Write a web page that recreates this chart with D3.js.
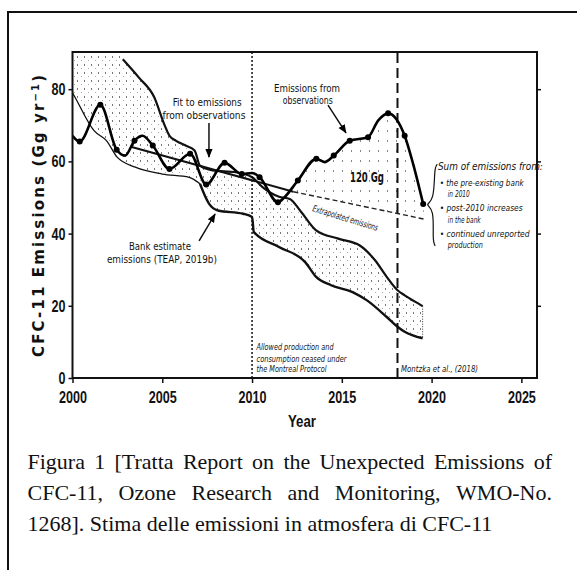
<!DOCTYPE html>
<html><head><meta charset="utf-8">
<script src="https://cdn.jsdelivr.net/npm/d3@7"></script>
<style>
html,body{margin:0;padding:0;background:#fff;}
svg{display:block;}
</style></head>
<body>
<svg id="c" width="577" height="570"></svg>
<script>
// ---------- data ----------
const obsYears  = [2000.0,2000.4,2001.55,2002.46,2002.93,2003.45,2003.9,2004.47,2005.4,2006.55,2007.45,2008.47,2009.43,2010.0,2010.42,2011.44,2011.81,2012.55,2013.58,2014.04,2014.55,2015.44,2016.46,2017.02,2017.58,2018.04,2018.5,2018.97,2019.53];
const obsValues = [67.1,65.5,75.7,63.2,61.6,65.7,67.1,64.4,57.9,62.1,53.6,59.6,56.5,56.8,55.6,48.7,50.1,54.7,60.7,59.8,61.6,65.7,66.7,71.3,73.3,71.7,67.1,59.3,48.2];
const markerYears  = [2000.4,2001.55,2002.46,2003.45,2004.47,2005.4,2006.55,2007.45,2008.47,2009.43,2010.42,2011.44,2012.55,2013.58,2014.55,2015.44,2016.46,2017.58,2018.5,2019.53];
const markerValues = [65.5,75.7,63.2,65.7,64.4,57.9,62.1,53.6,59.6,56.5,55.6,48.7,54.7,60.7,61.6,65.7,66.7,73.3,67.1,48.2];

const bankUpperYears  = [2000.0,2001.5,2002.5,2002.8,2003.7,2004.56,2005.1,2005.4,2005.77,2006.3,2006.8,2007.1,2007.8,2009.1,2010.0,2010.6,2011.5,2012.1,2012.75,2013.57,2014.8,2016.0,2016.85,2017.5,2018.1,2018.5,2019.4,2019.5];
const bankUpperValues = [93,92,91,88.3,83.2,77.7,70.4,67.1,65.7,64.4,63.0,58.8,57.5,57.0,55.6,52.8,50.2,49.6,45.9,40.9,38.6,36.7,32.6,28.0,24.3,22.9,20.2,19.9];
const bankLowerYears  = [2000.0,2000.2,2001.2,2001.9,2002.5,2003.5,2005.0,2006.5,2007.1,2007.6,2008.1,2009.5,2010.0,2010.1,2011.5,2012.96,2013.57,2014.4,2015.6,2016.4,2017.5,2018.1,2018.5,2019.5];
const bankLowerValues = [79,77.2,68.5,65.7,61.1,58.4,56.5,55.6,53.8,48.3,46.4,45.5,44.6,40.4,36.3,32.1,28.0,25.7,23.8,21.5,16.9,14.2,12.8,11.0];

const fitYears     = [2003.3, 2012.3];
const fitValues    = [64.0, 51.6];
const extrapYears  = [2012.3, 2019.6];
const extrapValues = [51.6, 44.0];

const xTicks = [2000, 2005, 2010, 2015, 2020, 2025];
const yTicks = [0, 20, 40, 60, 80];
const refLineYears = [2010, 2018.1];

const captionLines = [
  "Figura 1 [Tratta Report on the Unexpected Emissions of",
  "CFC-11, Ozone Research and Monitoring, WMO-No.",
  "1268]. Stima delle emissioni in atmosfera di CFC-11"
];

// ---------- layout ----------
const svg = d3.select("#c");
svg.append("rect").attr("width",577).attr("height",570).attr("fill","#fff");
const x = d3.scaleLinear().domain([2000, 2025.87]).range([72.5, 537]);
const y = d3.scaleLinear().domain([0, 90.3]).range([378, 52]);
const pt = (yr, v) => [x(yr), y(v)];
const zip = (a, b) => a.map((d, i) => [d, b[i]]);

const defs = svg.append("defs");
defs.append("clipPath").attr("id","plotclip").append("rect")
  .attr("x", x(2000)).attr("y", y(90.3)).attr("width", x(2025.87)-x(2000)).attr("height", y(0)-y(90.3));
const pat = defs.append("pattern").attr("id","stip").attr("patternUnits","userSpaceOnUse").attr("width",7).attr("height",8);
pat.append("rect").attr("x",0).attr("y",0).attr("width",1).attr("height",2).attr("fill","#777");
pat.append("rect").attr("x",4).attr("y",4).attr("width",1).attr("height",1).attr("fill","#aaa");
const pat2 = defs.append("pattern").attr("id","stip2").attr("patternUnits","userSpaceOnUse").attr("width",9).attr("height",10);
pat2.append("rect").attr("x",0).attr("y",0).attr("width",1).attr("height",2).attr("fill","#888");
const mk = defs.append("marker").attr("id","arr").attr("viewBox","0 0 10 10").attr("refX",9).attr("refY",5)
  .attr("markerWidth",6).attr("markerHeight",6).attr("orient","auto");
mk.append("path").attr("d","M0,1 L10,5 L0,9 Z").attr("fill","#000");

// outer border
svg.append("path").attr("d","M8,570 V12 H577").attr("fill","none").attr("stroke","#111").attr("stroke-width",2);

const plot = svg.append("g").attr("clip-path","url(#plotclip)");
const lineGen = d3.line().x(d => x(d[0])).y(d => y(d[1]));

// bank estimate band (stippled)
const upper = zip(bankUpperYears, bankUpperValues);
const lower = zip(bankLowerYears, bankLowerValues);
plot.append("path").attr("d", lineGen.curve(d3.curveLinear)([...upper, ...lower.slice().reverse()]) + "Z")
  .attr("fill","url(#stip)").attr("stroke","none");

// 120 Gg area between observations and extrapolated line
const obs = zip(obsYears, obsValues);
const obsLate = obs.filter(d => d[0] >= 2012.3);
const extrap = zip(extrapYears, extrapValues);
plot.append("path").attr("d", lineGen.curve(d3.curveLinear)([extrap[0], ...obsLate, ...extrap.slice().reverse()]) + "Z")
  .attr("fill","url(#stip2)").attr("stroke","none");

// band boundary lines
plot.append("path").attr("d", lineGen.curve(d3.curveMonotoneX)(upper.filter(d => d[0] >= 2002.8)))
  .attr("fill","none").attr("stroke","#111").attr("stroke-width",2.2);
plot.append("path").attr("d", lineGen.curve(d3.curveMonotoneX)(lower.filter(d => d[0] <= 2007.2)))
  .attr("fill","none").attr("stroke","#111").attr("stroke-width",1.3);
plot.append("path").attr("d", lineGen.curve(d3.curveMonotoneX)(lower.filter(d => d[0] >= 2007.1)))
  .attr("fill","none").attr("stroke","#111").attr("stroke-width",2.4);
plot.append("path").attr("d", lineGen.curve(d3.curveLinear)([upper[upper.length-1], lower[lower.length-1]]))
  .attr("fill","none").attr("stroke","#333").attr("stroke-width",1).attr("stroke-dasharray","1,1.5");

// fit & extrapolation
plot.append("path").attr("d", lineGen.curve(d3.curveLinear)(zip(fitYears, fitValues)))
  .attr("fill","none").attr("stroke","#111").attr("stroke-width",2);
plot.append("path").attr("d", lineGen.curve(d3.curveLinear)(extrap))
  .attr("fill","none").attr("stroke","#222").attr("stroke-width",1.4).attr("stroke-dasharray","5,3");

// reference verticals
plot.append("line").attr("x1",x(refLineYears[0])).attr("x2",x(refLineYears[0])).attr("y1",y(0)).attr("y2",y(90.3))
  .attr("stroke","#111").attr("stroke-width",1.5).attr("stroke-dasharray","2,2");
plot.append("line").attr("x1",x(refLineYears[1])).attr("x2",x(refLineYears[1])).attr("y1",y(0)).attr("y2",y(90.3))
  .attr("stroke","#111").attr("stroke-width",2).attr("stroke-dasharray","10,5");

// observations line + markers
plot.append("path").attr("d", lineGen.curve(d3.curveMonotoneX)(obs))
  .attr("fill","none").attr("stroke","#000").attr("stroke-width",2.6);
plot.selectAll("circle.m").data(zip(markerYears, markerValues)).join("circle").attr("class","m")
  .attr("cx", d => x(d[0])).attr("cy", d => y(d[1])).attr("r",3).attr("fill","#000");

// frame
svg.append("rect").attr("x", x(2000)).attr("y", y(90.3)).attr("width", x(2025.87)-x(2000)).attr("height", y(0)-y(90.3))
  .attr("fill","none").attr("stroke","#111").attr("stroke-width",2);

// axes
const fontTick = "'Liberation Sans',Arial,sans-serif";
const gx = svg.append("g").attr("transform",`translate(0,${y(0)})`)
  .call(d3.axisBottom(x).tickValues(xTicks).tickFormat(d3.format("d")).tickSize(5).tickPadding(8));
const gy = svg.append("g").attr("transform",`translate(${x(2000)},0)`)
  .call(d3.axisLeft(y).tickValues(yTicks).tickSize(4).tickPadding(3));
const gy2 = svg.append("g").attr("transform",`translate(${x(2025.87)},0)`)
  .call(d3.axisRight(y).tickValues(yTicks.slice(1)).tickSize(4).tickFormat(""));
[gx, gy, gy2].forEach(g => {
  g.select(".domain").remove();
  g.selectAll(".tick line").attr("stroke","#111").attr("stroke-width",1.5);
  g.selectAll(".tick text").attr("font-family", fontTick).attr("font-size",17).attr("font-weight","bold").attr("fill","#111")
    .attr("lengthAdjust","spacingAndGlyphs")
    .attr("textLength", function() { return this.textContent.length * 7; });
});

// axis titles
svg.append("text").attr("x", 302).attr("y", 427).attr("text-anchor","middle")
  .attr("font-family", fontTick).attr("font-size",17).attr("font-weight","bold").attr("fill","#111")
  .attr("textLength",28).attr("lengthAdjust","spacingAndGlyphs").text("Year");
const yt = svg.append("text").attr("transform","translate(39,216) rotate(-90)").attr("text-anchor","middle").attr("dy","0.35em")
  .attr("font-family","'DejaVu Sans',Verdana,sans-serif").attr("font-size",15).attr("font-weight","bold").attr("fill","#111")
  .attr("textLength",282).attr("lengthAdjust","spacing");
yt.append("tspan").text("CFC-11 Emissions (Gg yr");
yt.append("tspan").attr("dy","-5").attr("font-size",10).text("−1");
yt.append("tspan").attr("dy","5").text(")");

// annotations
const annFont = "'Liberation Sans Narrow','Arial Narrow','DejaVu Sans Condensed',sans-serif";
function ann(txt, yr, v, w, opts = {}) {
  const t = svg.append("text").attr("x", x(yr)).attr("y", y(v)).attr("dy","0.35em")
    .attr("text-anchor", opts.anchor || "middle").attr("font-family", annFont)
    .attr("font-size", opts.size || 10).attr("font-style", opts.italic ? "italic" : "normal")
    .attr("font-weight", opts.weight || "normal").attr("fill","#111")
    .attr("textLength", w).attr("lengthAdjust","spacingAndGlyphs").text(txt);
  if (opts.rotate) t.attr("transform", `rotate(${opts.rotate},${x(yr)},${y(v)})`);
  return t;
}
ann("Fit to emissions", 2007.5, 76.2, 69);
ann("from observations", 2007.32, 72.6, 83);
ann("Emissions from", 2013.06, 80.3, 66);
ann("observations", 2013.1, 77.0, 50);
ann("120 Gg", 2016.4, 55.7, 34, {size: 14, weight: "bold"});
ann("Bank estimate", 2004.87, 36.3, 62);
ann("emissions (TEAP, 2019b)", 2004.98, 32.7, 110);
ann("Extrapolated emissions", 2015.2, 44.3, 68, {italic: true, rotate: 17, size: 9});
ann("Allowed production and", 2010.25, 8.6, 77, {italic: true, anchor: "start", size: 9});
ann("consumption ceased under", 2010.25, 5.4, 90, {italic: true, anchor: "start", size: 9});
ann("the Montreal Protocol", 2010.25, 2.6, 70, {italic: true, anchor: "start", size: 9});
ann("Montzka et al., (2018)", 2018.3, 2.6, 77, {italic: true, anchor: "start", size: 9});
ann("Sum of emissions from:", 2020.35, 58.5, 105, {italic: true, anchor: "start", size: 10});
ann("• the pre-existing bank", 2020.45, 54.0, 84, {italic: true, anchor: "start", size: 9});
ann("in 2010", 2020.9, 51.0, 22, {italic: true, anchor: "start", size: 9});
ann("• post-2010 increases", 2020.45, 47.0, 83, {italic: true, anchor: "start", size: 9});
ann("in the bank", 2020.9, 43.8, 33, {italic: true, anchor: "start", size: 9});
ann("• continued unreported", 2020.45, 40.0, 90, {italic: true, anchor: "start", size: 9});
ann("production", 2020.9, 36.8, 35, {italic: true, anchor: "start", size: 9});

// arrows
function arrow(a, b) {
  svg.append("path").attr("d", d3.line()([pt(...a), pt(...b)]))
    .attr("stroke","#111").attr("stroke-width",1.5).attr("fill","none").attr("marker-end","url(#arr)");
}
arrow([2007.6, 70.6], [2007.6, 61.2]);
arrow([2014.23, 75.6], [2015.23, 67.9]);
arrow([2007.05, 38.0], [2007.94, 45.4]);

// curly bracket
const br = [[2020.32,59.2],[2020.15,58.3],[2020.15,49.0],[2019.6,48.0],[2020.15,47.0],[2020.05,38.0],[2020.2,36.6]];
svg.append("path").attr("d", d3.line().x(d => x(d[0])).y(d => y(d[1])).curve(d3.curveBasis)(br))
  .attr("fill","none").attr("stroke","#111").attr("stroke-width",1.2);

// caption (justified)
const capFont = "'Liberation Serif','Times New Roman',serif";
const capSize = 22, capLeft = 27.5, capRight = 552, capBase = [469, 500, 531];
captionLines.forEach((line, li) => {
  const words = line.split(" ");
  const g = svg.append("g");
  const ws = words.map(w => g.append("text").attr("font-family", capFont).attr("font-size", capSize).attr("fill","#111").text(w));
  const widths = ws.map(t => t.node().getComputedTextLength());
  const tot = d3.sum(widths);
  const last = li === captionLines.length - 1;
  const gap = last ? capSize * 0.25 : Math.max(capSize * 0.2, (capRight - capLeft - tot) / (words.length - 1));
  let cx = capLeft;
  ws.forEach((t, i) => { t.attr("x", cx).attr("y", capBase[li]); cx += widths[i] + gap; });
});
</script>
</body></html>
